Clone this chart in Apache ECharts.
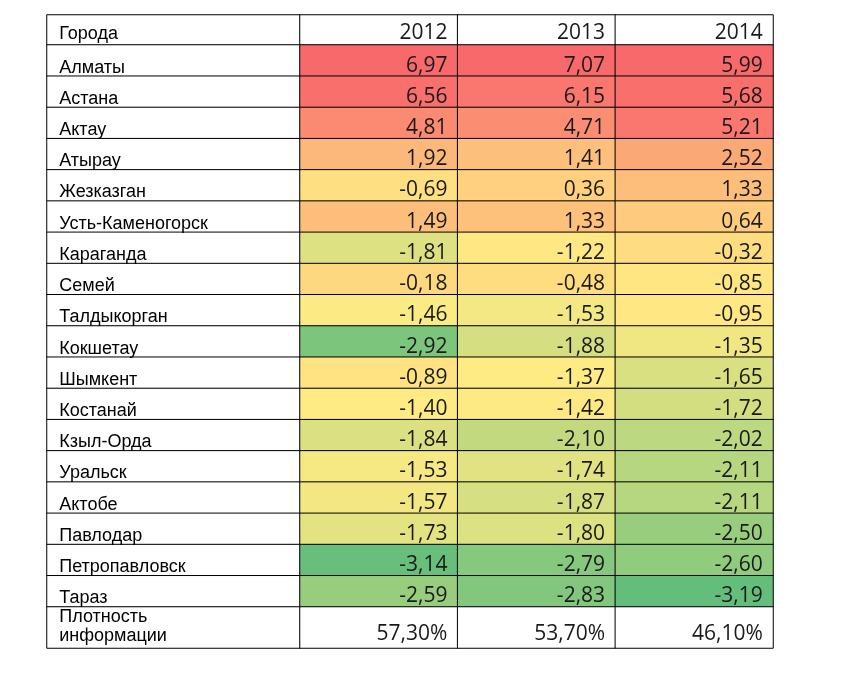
<!DOCTYPE html>
<html>
<head>
<meta charset="utf-8">
<script src="https://cdn.jsdelivr.net/npm/echarts@6/dist/echarts.min.js"></script>
<style>
html,body{margin:0;padding:0;background:#fff;}
#c{width:845px;height:680px;}
</style>
</head>
<body>
<div id="c"></div>
<script>
const headerLabel = 'Города';
const footerLabel = 'Плотность\nинформации';
const years = ['2012', '2013', '2014'];
const cities = ['Алматы','Астана','Актау','Атырау','Жезказган','Усть-Каменогорск','Караганда','Семей','Талдыкорган','Кокшетау','Шымкент','Костанай','Кзыл-Орда','Уральск','Актобе','Павлодар','Петропавловск','Тараз'];
const v2012 = [6.97,6.56,4.81,1.92,-0.69,1.49,-1.81,-0.18,-1.46,-2.92,-0.89,-1.40,-1.84,-1.53,-1.57,-1.73,-3.14,-2.59];
const v2013 = [7.07,6.15,4.71,1.41,0.36,1.33,-1.22,-0.48,-1.53,-1.88,-1.37,-1.42,-2.10,-1.74,-1.87,-1.80,-2.79,-2.83];
const v2014 = [5.99,5.68,5.21,2.52,1.33,0.64,-0.32,-0.85,-0.95,-1.35,-1.65,-1.72,-2.02,-2.11,-2.11,-2.50,-2.60,-3.19];
const density = [57.30, 53.70, 46.10];

const columns = [v2012, v2013, v2014];

// 3-colour scale: green low end, yellow at column median, red at column max
const C_MIN = [99,190,123], C_MID = [255,235,132], C_MAX = [248,105,107];
const allVals = [].concat(...columns);
const globalMin = Math.min(...allVals);
function median(arr){const s=arr.slice().sort((a,b)=>a-b);const n=s.length;return n%2?s[(n-1)/2]:(s[n/2-1]+s[n/2])/2;}
function mix(a,b,t){t=Math.max(0,Math.min(1,t));return 'rgb('+a.map((x,i)=>Math.round(x+(b[i]-x)*t)).join(',')+')';}
function colorFor(v, arr){
  const mx=Math.max(...arr), md=median(arr), mn=globalMin;
  if (v>=md) return mix(C_MID,C_MAX,(v-md)/(mx-md));
  return mix(C_MID,C_MIN,(md-v)/(md-mn));
}
const fmt = v => v.toFixed(2).replace('.', ',');

const L = 47, MID = 300, R = 773, TOP = 15, HEAD_H = 30, BODY_H = 562, FOOT_H = 41;
const LW = MID - L, RW = R - MID;

const grids = [
  {left:L, top:TOP, width:LW, height:HEAD_H},
  {left:MID, top:TOP, width:RW, height:HEAD_H},
  {left:L, top:TOP+HEAD_H, width:LW, height:BODY_H},
  {left:MID, top:TOP+HEAD_H, width:RW, height:BODY_H},
  {left:L, top:TOP+HEAD_H+BODY_H, width:LW, height:FOOT_H},
  {left:MID, top:TOP+HEAD_H+BODY_H, width:RW, height:FOOT_H}
];
function xAx(i, data){return {type:'category', gridIndex:i, data:data, show:false};}
function yAx(i, data){return {type:'category', gridIndex:i, data:data, inverse:true, show:false};}

const cellStyle = {borderColor:'#000', borderWidth:1};
const nameFont = {fontFamily:'"Liberation Sans", Arial, sans-serif', fontSize:18, color:'#000'};
const numFont = {fontFamily:'"Open Sans", sans-serif', fontSize:21, color:'#1a1a1a'};

const bodyData = [];
columns.forEach((col, ci) => col.forEach((v, ri) => {
  bodyData.push({value:[ci, ri, v], itemStyle:{color:colorFor(v, col)}});
}));

const option = {
  backgroundColor:'#fff',
  animation:false,
  grid: grids,
  xAxis: [xAx(0,[headerLabel]), xAx(1,years), xAx(2,[headerLabel]), xAx(3,years), xAx(4,[headerLabel]), xAx(5,years)],
  yAxis: [yAx(0,['h']), yAx(1,['h']), yAx(2,cities), yAx(3,cities), yAx(4,['f']), yAx(5,['f'])],
  series: [
    {type:'heatmap', xAxisIndex:0, yAxisIndex:0, data:[{value:[0,0,0], itemStyle:{color:'#fff'}}],
     itemStyle:cellStyle,
     label:Object.assign({show:true, position:'insideLeft', distance:13, offset:[0,4], formatter:()=>headerLabel}, nameFont)},
    {type:'heatmap', xAxisIndex:1, yAxisIndex:1, data:years.map((y,i)=>({value:[i,0,0], itemStyle:{color:'#fff'}})),
     itemStyle:cellStyle,
     label:Object.assign({show:true, position:'insideRight', distance:11, offset:[0,3], formatter:p=>years[p.value[0]]}, numFont)},
    {type:'heatmap', xAxisIndex:2, yAxisIndex:2, data:cities.map((c,i)=>({value:[0,i,0], itemStyle:{color:'#fff'}})),
     itemStyle:cellStyle,
     label:Object.assign({show:true, position:'insideLeft', distance:13, offset:[0,7], formatter:p=>cities[p.value[1]]}, nameFont)},
    {type:'heatmap', xAxisIndex:3, yAxisIndex:3, data:bodyData,
     itemStyle:cellStyle,
     label:Object.assign({show:true, position:'insideRight', distance:11, offset:[0,5], formatter:p=>fmt(p.value[2])}, numFont)},
    {type:'heatmap', xAxisIndex:4, yAxisIndex:4, data:[{value:[0,0,0], itemStyle:{color:'#fff'}}],
     itemStyle:cellStyle,
     label:Object.assign({show:true, position:'insideLeft', distance:13, offset:[0,-1], lineHeight:19, formatter:()=>footerLabel}, nameFont)},
    {type:'heatmap', xAxisIndex:5, yAxisIndex:5, data:density.map((d,i)=>({value:[i,0,d], itemStyle:{color:'#fff'}})),
     itemStyle:cellStyle,
     label:Object.assign({show:true, position:'insideRight', distance:11, offset:[0,7], formatter:p=>fmt(p.value[2])+'%'}, numFont)}
  ]
};
const chart = echarts.init(document.getElementById('c'), null, {renderer:'canvas'});
chart.setOption(option);
</script>
</body>
</html>
